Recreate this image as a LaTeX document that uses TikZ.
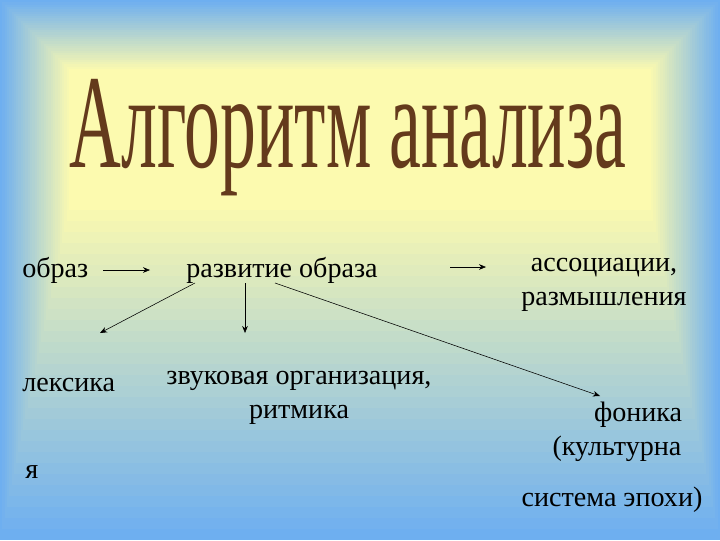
\documentclass[tikz,border=0pt]{standalone}
\usepackage{fontspec}
\setmainfont{Liberation Serif}
\usetikzlibrary{arrows.meta}
\begin{document}
\begin{tikzpicture}[x=0.025cm,y=-0.025cm,
  lbl/.style={inner sep=0pt,font=\fontsize{20}{24}\selectfont,align=center},
  arr/.style={-{Stealth[length=5pt,width=4pt]},thin,black}]
\useasboundingbox (0,0) rectangle (720,540);
\definecolor{bgb}{RGB}{110,175,240}
\definecolor{bgy}{RGB}{252,250,175}
\definecolor{ttl}{RGB}{100,58,28}
\foreach \i in {0,...,30}{
  \pgfmathsetmacro{\p}{100*\i/30}
  \fill[bgy!\p!bgb] (2.3*\i,2.3*\i) rectangle (720-2.3*\i,540-11*\i);
}
\node[inner sep=0pt,text=ttl,
  font=\fontsize{100}{100}\selectfont,xscale=0.51,yscale=0.95] (title) at (348,138) {Алгоритм анализа};
\node[lbl,anchor=west] (obraz) at (22,270) {образ};
\node[lbl] (razv) at (282,270) {развитие образа};
\node[lbl] (assoc) at (604,285) {ассоциации,\\ размышления};
\node[lbl,anchor=west] (leks) at (22,385) {лексика};
\node[lbl] (zvuk) at (299,398) {звуковая организация,\\ ритмика};
\node[lbl] (fon) at (617,432) {\hspace*{1.5em}фоника\\(культурна};
\node[lbl,anchor=west] (ya) at (25,472) {я};
\node[lbl] (sys) at (612,500) {система эпохи)};
\coordinate (a1) at (103,270); \coordinate (a2) at (150,270);
\coordinate (b1) at (450,267); \coordinate (b2) at (486,267);
\coordinate (c1) at (195,283); \coordinate (c2) at (100,333);
\coordinate (d1) at (245,283); \coordinate (d2) at (245,333);
\coordinate (e1) at (275,283); \coordinate (e2) at (600,396);
\draw[arr] (a1) -- (a2);
\draw[arr] (b1) -- (b2);
\draw[arr] (c1) -- (c2);
\draw[arr] (d1) -- (d2);
\draw[arr] (e1) -- (e2);
\end{tikzpicture}
\end{document}
